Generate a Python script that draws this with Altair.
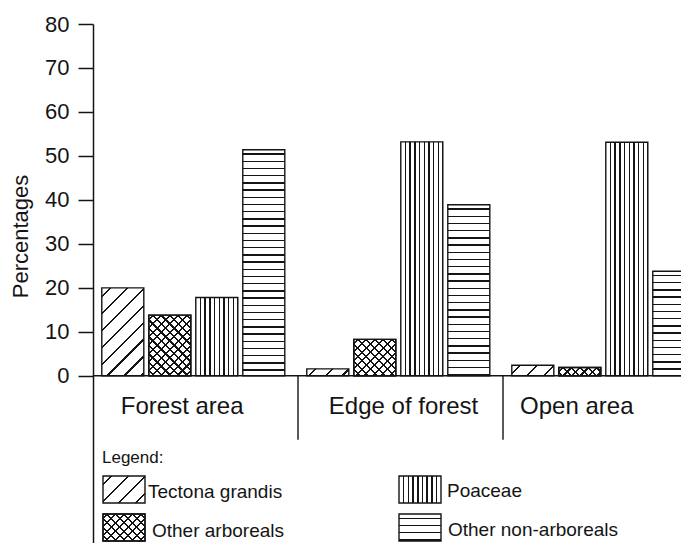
import math
import altair as alt
import pandas as pd

# ---------------- data ----------------
groups = ["Forest area", "Edge of forest", "Open area"]
series = ["Tectona grandis", "Other arboreals", "Poaceae", "Other non-arboreals"]
tectona = [20.0, 1.6, 2.4]
other_arboreals = [13.8, 8.3, 1.9]
poaceae = [17.8, 53.2, 53.1]
other_non_arboreals = [51.4, 38.9, 23.8]
y_ticks = [0, 10, 20, 30, 40, 50, 60, 70, 80]
y_title = "Percentages"
legend_title = "Legend:"

# ---------------- layout / style ----------------
FONT = "Liberation Sans"
INK = "#141414"
CLEAR = "rgba(255,255,255,0)"
W_PLOT, H_PLOT = 588, 519
Y_MIN, Y_MAX = -38, 80
GROUP_W = 205
PAD_IN, PAD_OUT, ALIGN = 0.106, 0.234, 0.4
SEP_BOTTOM = -14.5
LABEL_Y = -8.6
LABEL_BAND = {"Forest area": 0.435, "Edge of forest": 0.515, "Open area": 0.36}
LINE_W = 1.5
TICK_FS = 22
PX_PER_UNIT = H_PLOT / (Y_MAX - Y_MIN)
STEP = GROUP_W / (len(series) - PAD_IN + 2 * PAD_OUT)
BAR_W = STEP * (1 - PAD_IN)

# hatch style of each series: list of (kind, spacing px)
hatch = {
    "Tectona grandis": [("fwd", 12)],
    "Other arboreals": [("fwd", 6), ("back", 6)],
    "Poaceae": [("vert", 4.7)],
    "Other non-arboreals": [("horiz", 7.2)],
}

# legend layout (pixels inside the plot area)
LEG_TITLE_POS = (9, 439)
LEG_SW = (42, 27)
LEG_SWATCH = {
    "Tectona grandis": (10, 452),
    "Other arboreals": (10, 490),
    "Poaceae": (306, 452),
    "Other non-arboreals": (306, 490),
}
LEG_LABEL = {
    "Tectona grandis": (55, 474),
    "Other arboreals": (59, 513),
    "Poaceae": (354, 473),
    "Other non-arboreals": (355, 512),
}


def stripe_stops(period, lw, first, bg, fg):
    gs = alt.GradientStop
    st = [gs(offset=0, color=bg)]
    t = first
    while t - lw / 2 < 1:
        a = round(max(0.0, t - lw / 2), 5)
        b = round(min(1.0, t + lw / 2), 5)
        st += [gs(offset=a, color=bg), gs(offset=a, color=fg),
               gs(offset=b, color=fg), gs(offset=b, color=bg)]
        t += period
    st.append(gs(offset=1, color=bg))
    return st


def hatch_fill(kind, s, w, h, bg):
    if kind in ("fwd", "back"):
        lam = (w + h) / (w * w + h * h)
        per = s * math.sqrt(2) / (w + h)
        lw = LINE_W * math.sqrt(2) / (w + h)
        stops = stripe_stops(per, lw, per * 0.5, bg, INK)
        if kind == "fwd":
            c = dict(x1=0, y1=0, x2=lam * w, y2=lam * h)
        else:
            c = dict(x1=1, y1=0, x2=1 - lam * w, y2=lam * h)
    elif kind == "vert":
        per, lw = s / w, LINE_W / w
        stops = stripe_stops(per, lw, per, bg, INK)
        c = dict(x1=0, y1=0, x2=1, y2=0)
    else:
        per, lw = s / h, LINE_W / h
        stops = stripe_stops(per, lw, per * 0.6, bg, INK)
        c = dict(x1=0, y1=0, x2=0, y2=1)
    return alt.LinearGradient(gradient="linear", stops=stops, **c)


values_by_series = [tectona, other_arboreals, poaceae, other_non_arboreals]
rows = []
for si, s in enumerate(series):
    for gi, g in enumerate(groups):
        rows.append({"group": g, "series": s, "value": values_by_series[si][gi]})
df = pd.DataFrame(rows)
df["bid"] = range(len(df))
gdf = pd.DataFrame({"group": groups})

xscale = alt.Scale(domain=groups, range=[0, GROUP_W * len(groups)], paddingInner=0, paddingOuter=0)
xoscale = alt.Scale(domain=series, paddingInner=PAD_IN, paddingOuter=PAD_OUT, align=ALIGN)
yscale = alt.Scale(domain=[Y_MIN, Y_MAX], nice=False, zero=False)
yaxis = alt.Axis(
    values=y_ticks, title=y_title, grid=False,
    titleFont=FONT, titleFontSize=22, titleFontWeight="normal", titleColor=INK,
    titleX=-61, titleY=212, titleAngle=270, titleBaseline="bottom", titleAlign="center",
    labelFont=FONT, labelFontSize=TICK_FS, labelColor=INK, labelPadding=9,
    tickSize=15, tickWidth=1.5, tickColor=INK, domainColor=INK, domainWidth=1.5,
)
xenc = alt.X("group:N", scale=xscale, axis=None)


def yd(v):
    return alt.Y(datum=v, scale=yscale, axis=yaxis)


layers = []

# separators between the groups
layers.append(
    alt.Chart(gdf).transform_filter(alt.datum.group != groups[0])
    .mark_rule(color=INK, strokeWidth=1.4)
    .encode(x=alt.X("group:N", scale=xscale, axis=None, bandPosition=0),
            y=yd(0), y2=alt.datum(SEP_BOTTOM))
)

# bars, each with its own hatch sized to its pixel box
for _, r in df.iterrows():
    h = r["value"] * PX_PER_UNIT
    for k, (kind, sp) in enumerate(hatch[r["series"]]):
        bg = "white" if k == 0 else CLEAR
        layers.append(
            alt.Chart(df).transform_filter(alt.datum.bid == int(r["bid"]))
            .mark_bar(fill=hatch_fill(kind, sp, BAR_W, h, bg), stroke=INK,
                      strokeWidth=1.4, clip=True)
            .encode(x=xenc, xOffset=alt.XOffset("series:N", scale=xoscale),
                    y=alt.Y("value:Q", scale=yscale, axis=yaxis), y2=alt.datum(0))
        )

# baseline
layers.append(
    alt.Chart(pd.DataFrame({"v": [0]})).mark_rule(color=INK, strokeWidth=1.5)
    .encode(y=yd(0))
)

# group labels
for g in groups:
    layers.append(
        alt.Chart(gdf).transform_filter(alt.datum.group == g)
        .mark_text(font=FONT, fontSize=24, color=INK, baseline="alphabetic", align="center")
        .encode(x=alt.X("group:N", scale=xscale, axis=None, bandPosition=LABEL_BAND[g]),
                y=yd(LABEL_Y), text="group:N")
    )

# legend
layers.append(
    alt.Chart(pd.DataFrame({"t": [legend_title]}))
    .mark_text(font=FONT, fontSize=17, color=INK, align="left", baseline="alphabetic")
    .encode(x=alt.value(LEG_TITLE_POS[0]), y=alt.value(LEG_TITLE_POS[1]), text="t:N")
)
sw, sh = LEG_SW
for s in series:
    x0, y0 = LEG_SWATCH[s]
    for k, (kind, sp) in enumerate(hatch[s]):
        bg = "white" if k == 0 else CLEAR
        layers.append(
            alt.Chart(pd.DataFrame({"series": [s]}))
            .mark_rect(fill=hatch_fill(kind, sp, sw, sh, bg), stroke=INK, strokeWidth=1.4)
            .encode(x=alt.value(x0), x2=alt.value(x0 + sw), y=alt.value(y0), y2=alt.value(y0 + sh))
        )
    lx, ly = LEG_LABEL[s]
    layers.append(
        alt.Chart(pd.DataFrame({"series": [s]}))
        .mark_text(font=FONT, fontSize=19, color=INK, align="left", baseline="alphabetic")
        .encode(x=alt.value(lx), y=alt.value(ly), text="series:N")
    )

chart = (
    alt.layer(*layers)
    .properties(width=W_PLOT, height=H_PLOT, background="white",
                autosize=alt.AutoSizeParams(type="none"),
                padding={"left": 85, "top": 16, "right": 0, "bottom": 0})
    .configure_view(stroke=None)
    .configure_axis(labelFontSize=TICK_FS, labelFont=FONT, labelColor=INK)
)

chart.save("out.html", embed_options={"renderer": "svg", "actions": False})
